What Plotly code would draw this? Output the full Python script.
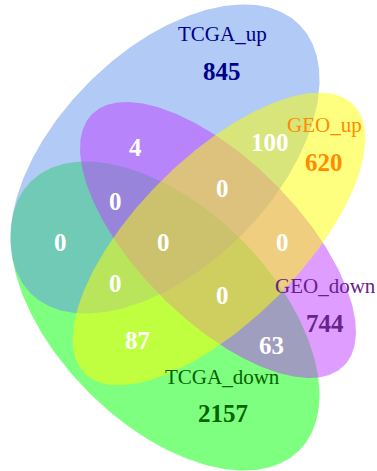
import numpy as np
import plotly.graph_objects as go

# ---- data -------------------------------------------------------------
set_names = ["TCGA_up", "GEO_up", "GEO_down", "TCGA_down"]
set_only_counts = [845, 620, 744, 2157]

# intersection regions (membership keys use A=TCGA_up, B=GEO_up, C=GEO_down, D=TCGA_down)
overlap_keys = ["AC", "AB", "ACD", "ABC", "AD", "ABCD", "BC", "ABD", "BCD", "BD", "CD"]
overlap_counts = [4, 100, 0, 0, 0, 0, 0, 0, 0, 87, 63]

# ---- layout constants (pixel space, y pointing down) ------------------
W, H = 377, 471

# ellipse geometry: centre x, centre y, semi-major, semi-minor, major-axis direction
ellipses = {
    "TCGA_down": dict(cx=165, cy=316, a=190, b=108, d=(1, 1), fill="rgba(0,255,0,0.5)"),
    "TCGA_up": dict(cx=165, cy=159, a=190, b=108, d=(1, -1), fill="rgba(100,149,237,0.5)"),
    "GEO_down": dict(cx=218, cy=240, a=178, b=80, d=(1, 1), fill="rgba(191,62,255,0.5)"),
    "GEO_up": dict(cx=219, cy=239, a=190, b=82, d=(1, -1), fill="rgba(255,255,0,0.5)"),
}

name_pos = {
    "TCGA_up": (222, 34), "GEO_up": (324, 125),
    "GEO_down": (325, 286), "TCGA_down": (222, 377),
}
only_pos = {
    "TCGA_up": (222, 71), "GEO_up": (324, 162),
    "GEO_down": (325, 323), "TCGA_down": (223, 413),
}
overlap_pos = {
    "AC": (135, 147), "AB": (270, 142), "ACD": (115, 201), "ABC": (222, 188),
    "AD": (60, 242), "ABCD": (163, 242), "BC": (282, 242), "ABD": (115, 283),
    "BCD": (222, 295), "BD": (137, 340), "CD": (271, 345),
}
name_colors = {
    "TCGA_up": "#00008B", "GEO_up": "#FF8C00",
    "GEO_down": "#68228B", "TCGA_down": "#006400",
}
FONT = "Liberation Serif, Times New Roman, serif"

fig = go.Figure()

t = np.linspace(0, 2 * np.pi, 400)
for name in ["TCGA_down", "TCGA_up", "GEO_down", "GEO_up"]:
    e = ellipses[name]
    u = np.array(e["d"], dtype=float) / np.sqrt(2)
    v = np.array([-u[1], u[0]])
    xs = e["cx"] + e["a"] * np.cos(t) * u[0] + e["b"] * np.sin(t) * v[0]
    ys = e["cy"] + e["a"] * np.cos(t) * u[1] + e["b"] * np.sin(t) * v[1]
    fig.add_trace(go.Scatter(
        x=xs, y=ys, mode="lines", fill="toself", fillcolor=e["fill"],
        line=dict(width=0, color="rgba(0,0,0,0)"), hoverinfo="skip", showlegend=False,
    ))

annotations = []
for name, count in zip(set_names, set_only_counts):
    x, y = name_pos[name]
    annotations.append(dict(x=x, y=y, text=name, showarrow=False,
                            font=dict(family=FONT, size=21, color=name_colors[name])))
    x, y = only_pos[name]
    annotations.append(dict(x=x, y=y, text=f"<b>{count}</b>", showarrow=False,
                            font=dict(family=FONT, size=25, color=name_colors[name])))
for key, count in zip(overlap_keys, overlap_counts):
    x, y = overlap_pos[key]
    annotations.append(dict(x=x, y=y, text=f"<b>{count}</b>", showarrow=False,
                            font=dict(family=FONT, size=25, color="white")))

fig.update_layout(
    width=W, height=H, autosize=False,
    margin=dict(l=0, r=0, t=0, b=0),
    paper_bgcolor="white", plot_bgcolor="white",
    xaxis=dict(range=[0, W], visible=False, fixedrange=True),
    yaxis=dict(range=[H, 0], visible=False, fixedrange=True),
    annotations=annotations,
    showlegend=False,
)

fig.write_html("out.html")
